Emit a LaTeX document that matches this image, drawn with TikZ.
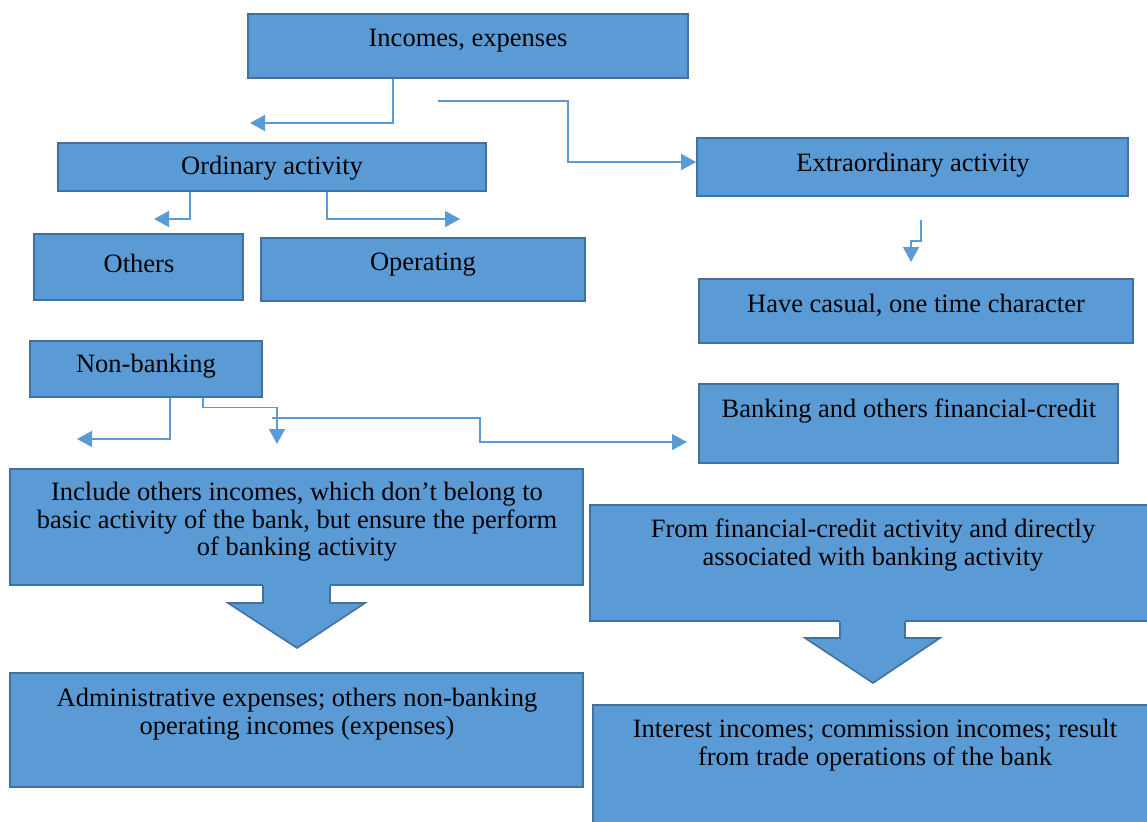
\documentclass[tikz,border=0pt]{standalone}
\usepackage{fontspec}
\setmainfont{Liberation Serif}
\usetikzlibrary{arrows.meta}
\definecolor{boxfill}{HTML}{5B9BD5}
\definecolor{boxline}{HTML}{41719C}
\tikzset{
  box/.style={rectangle, draw=boxline, fill=boxfill, line width=1.6pt, inner sep=0pt},
  txt/.style={font=\fontsize{26.5}{27.5}\selectfont, align=center, inner sep=0pt, text=black},
  conn/.style={draw=boxfill, line width=1.3pt, -{Triangle[length=15pt,width=16pt]}},
  bigfill/.style={fill=boxfill, draw=none},
  bigline/.style={draw=boxline, line width=1.6pt, line join=miter},
}
\begin{document}
\begin{tikzpicture}[x=1pt,y=-1pt]
\useasboundingbox (0,0) rectangle (1147,821);
% boxes
\node[box, minimum width=440pt, minimum height=64pt] (inc) at (468,46) {};
\node[box, minimum width=428pt, minimum height=48pt] (ord) at (272,167) {};
\node[box, minimum width=431pt, minimum height=58pt] (ext) at (912.5,167) {};
\node[box, minimum width=209pt, minimum height=66pt] (oth) at (138.5,267) {};
\node[box, minimum width=324pt, minimum height=63pt] (ope) at (423,269.5) {};
\node[box, minimum width=434pt, minimum height=64pt] (cas) at (916,311) {};
\node[box, minimum width=232pt, minimum height=56pt] (non) at (146,369) {};
\node[box, minimum width=419pt, minimum height=79pt] (ban) at (908.5,423.5) {};
\node[box, minimum width=573pt, minimum height=116pt] (incl) at (296.5,527) {};
\node[box, minimum width=560pt, minimum height=116pt] (fro) at (870,563) {};
\node[box, minimum width=573pt, minimum height=114pt] (adm) at (296.5,730) {};
\node[box, minimum width=557pt, minimum height=120pt] (intr) at (871.5,765) {};
% texts
\node[txt] (inct) at (468,41) {Incomes, expenses};
\node[txt] (ordt) at (272,168) {Ordinary activity};
\node[txt] (extt) at (913,165) {Extraordinary activity};
\node[txt] (otht) at (139,263) {Others};
\node[txt] (opet) at (423,265) {Operating};
\node[txt] (cast) at (916,305) {Have casual, one time character};
\node[txt] (nont) at (146,366) {Non-banking};
\node[txt] (bant) at (909,411) {Banking and others financial-credit};
\node[txt] (inclt) at (297,522) {Include others incomes, which don’t belong to\\basic activity of the bank, but ensure the perform\\of banking activity};
\node[txt] (frot) at (873,545) {From financial-credit activity and directly\\associated with banking activity};
\node[txt] (admt) at (297,714) {Administrative expenses; others non-banking\\operating incomes (expenses)};
\node[txt] (intrt) at (875,745) {Interest incomes; commission incomes; result\\from trade operations of the bank};
% big arrows
\fill[bigfill] (263,584) -- (263,603) -- (228,603) -- (297,648) -- (365,603) -- (330,603) -- (330,584) -- cycle;
\draw[bigline] (263,585.8) -- (263,603) -- (228,603) -- (297,648) -- (365,603) -- (330,603) -- (330,585.8);
\fill[bigfill] (840,620) -- (840,638) -- (805,638) -- (873,683) -- (940,638) -- (905,638) -- (905,620) -- cycle;
\draw[bigline] (840,621.8) -- (840,638) -- (805,638) -- (873,683) -- (940,638) -- (905,638) -- (905,621.8);
% free coordinates
\coordinate (t1) at (250,123);
\coordinate (s2) at (438,101);
\coordinate (t3) at (154,219);
\coordinate (t4) at (460,219);
\coordinate (s5) at (921,220);
\coordinate (t5) at (911,262);
\coordinate (t6) at (77,439);
\coordinate (t7) at (277,444);
\coordinate (s8) at (272,418);
\coordinate (t8) at (687,442);
% connectors
\draw[conn] ([xshift=-75pt]inc.south) |- (t1);
\draw[conn] (s2) -- (568,101) |- ([yshift=5pt]ext.west);
\draw[conn] ([xshift=-82pt]ord.south) |- (t3);
\draw[conn] ([xshift=55pt]ord.south) |- (t4);
\draw[conn] (s5) -- ++(0,21) -| (t5);
\draw[conn] ([xshift=24pt]non.south) |- (t6);
\draw[conn] ([xshift=57pt]non.south) -- ++(0,10) -| (t7);
\draw[conn] (s8) -| (480,442) -- (t8);
\end{tikzpicture}
\end{document}
